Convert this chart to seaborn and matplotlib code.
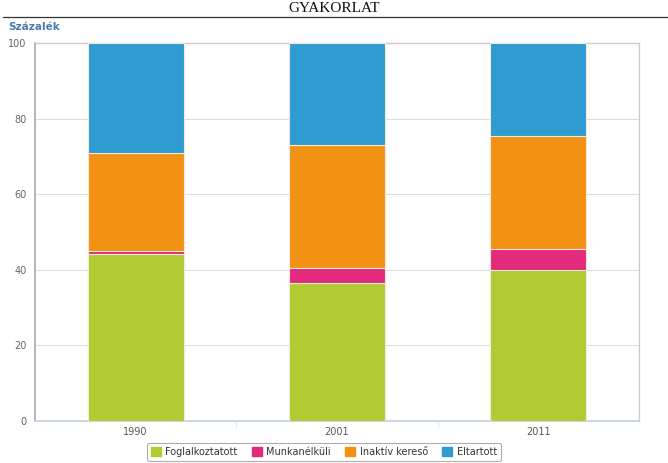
import matplotlib
matplotlib.use("Agg")
import matplotlib.pyplot as plt
import seaborn as sns
import pandas as pd
import numpy as np
from matplotlib.patches import Patch

years = ["1990", "2001", "2011"]
series = ["Foglalkoztatott", "Munkanélküli", "Inaktív kereső", "Eltartott"]
foglalkoztatott = [44.1, 36.5, 39.9]
munkanelkuli = [0.9, 4.0, 5.6]
inaktiv = [25.9, 32.5, 29.9]
eltartott = [29.1, 27.0, 24.6]
colors = ["#b3cb33", "#e42a7b", "#f29214", "#2e9bd1"]
yticks = [0, 20, 40, 60, 80, 100]

sns.set_theme(style="white")
plt.rcParams["font.family"] = ["DejaVu Sans"]

fig = plt.figure(figsize=(6.68, 4.63), dpi=100)
ax = fig.add_axes([35/668, 1-421/463, 604/668, 378/463])

vals = np.array([foglalkoztatott, munkanelkuli, inaktiv, eltartott])
cum = np.cumsum(vals, axis=0)
df = pd.DataFrame({"year": years})
for i in range(3, -1, -1):
    df["v"] = cum[i]
    sns.barplot(data=df, x="year", y="v", color=colors[i], width=0.477,
                edgecolor="#f4e9dc", linewidth=0.8, saturation=1, ax=ax, zorder=3)

ax.set_xlim(-0.5, 2.5)
ax.set_ylim(0, 100)
ax.set_yticks(yticks)
ax.set_yticklabels([str(t) for t in yticks], fontsize=7, color="#666666")
ax.tick_params(axis="y", length=0, pad=6)
ax.tick_params(axis="x", length=0, labelsize=7, colors="#555555", pad=4)
ax.set_xlabel("")
ax.set_ylabel("")
ax.yaxis.grid(True, color="#dddddd", linewidth=0.8, zorder=0)
ax.set_axisbelow(True)
for s in ["top", "right"]:
    ax.spines[s].set_color("#cccccc")
    ax.spines[s].set_linewidth(1.0)
ax.spines["left"].set_color("#aaaaaa")
ax.spines["left"].set_linewidth(1.2)
ax.spines["bottom"].set_color("#c0d0e0")
ax.spines["bottom"].set_linewidth(1.2)
for xt in [0.5, 1.5]:
    ax.plot([xt, xt], [0, -1.5], color="#e4e8ee", lw=0.8, clip_on=False)

fig.text(0.5, 1-8.5/463, "GYAKORLAT", ha="center", va="center",
         fontsize=11, family="Liberation Serif", color="#111111")
fig.add_artist(plt.Line2D([3/668, 1.0], [1-16.5/463, 1-16.5/463], color="#333333", lw=0.9))
fig.text(8/668, 1-27/463, "Százalék", ha="left", va="center", fontsize=7.5,
         fontweight="bold", color="#4a7aae")

handles = [Patch(facecolor=c, edgecolor=c) for c in colors]
leg = fig.legend(handles, series, loc="center", bbox_to_anchor=(324/668, 1-452/463),
                 ncol=4, fontsize=7, frameon=True, handlelength=1.0, handleheight=1.0,
                 columnspacing=1.5, handletextpad=0.45, borderpad=0.45, fancybox=True)
leg.get_frame().set_edgecolor("#999999")
leg.get_frame().set_linewidth(0.8)
for t in leg.get_texts():
    t.set_color("#333333")

fig.savefig("out.png", dpi=100)
